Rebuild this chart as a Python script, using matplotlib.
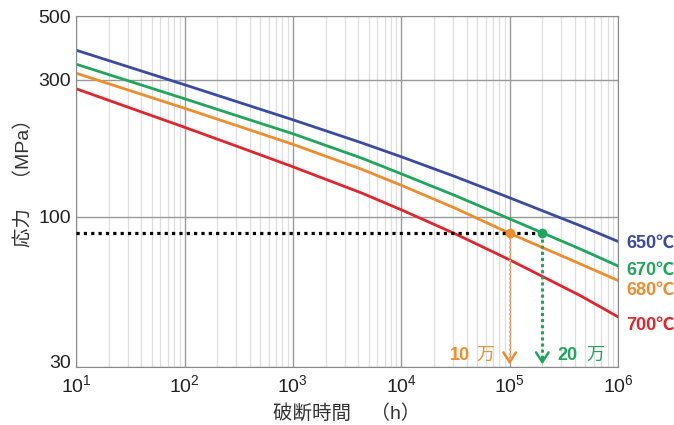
import numpy as np
import matplotlib
matplotlib.use('Agg')
from matplotlib import pyplot as plt
from matplotlib.ticker import FixedLocator, FixedFormatter, LogLocator, NullFormatter, NullLocator
from matplotlib.transforms import ScaledTranslation

plt.rcParams['font.family'] = ['Liberation Sans', 'Noto Sans CJK JP']

# Creep rupture curves: stress (MPa) against rupture time (h)
hours = [10, 100, 316, 1000, 4300, 1e4, 31600, 1e5, 450000, 1e6]
stress_650 = [380.6, 288.6, 250.8, 217.9, 181.2, 162.0, 138.1, 116.6, 93.2, 82.2]
stress_670 = [340.2, 257.9, 224.1, 194.8, 160.3, 141.3, 118.6, 98.5, 77.3, 67.5]
stress_680 = [316.5, 239.0, 206.9, 179.0, 146.6, 128.9, 107.2, 87.7, 68.6, 60.1]
stress_700 = [279.4, 205.2, 175.3, 149.5, 121.2, 105.9, 87.3, 70.9, 53.2, 44.9]

temps = ['650℃', '670℃', '680℃', '700℃']
colors = ['#3b4aa3', '#1ea65a', '#f08c2c', '#e2242c']
label_y = [80.9, 65.2, 55.5, 41.9]

# design stress and the rupture times it gives at 680 and 670 deg C
design_stress = 87.7
t_680 = 1e5
t_670 = 2e5

fig = plt.figure(figsize=(6.74, 4.25), dpi=100)
ax = fig.add_axes([0.113, 0.136, 0.804, 0.826])

for s, c in zip([stress_650, stress_670, stress_680, stress_700], colors):
    ax.plot(hours, s, color=c, lw=2)

ax.set_xscale('log')
ax.set_yscale('log')
ax.set_xlim(10, 1e6)
ax.set_ylim(30, 500)

ax.yaxis.set_major_locator(FixedLocator([30, 100, 300, 500]))
ax.yaxis.set_major_formatter(FixedFormatter(['30', '100', '300', '500']))
ax.yaxis.set_minor_locator(NullLocator())
ax.xaxis.set_major_locator(LogLocator(base=10, numticks=10))
ax.xaxis.set_minor_locator(LogLocator(base=10, subs=np.arange(2, 10), numticks=20))
ax.xaxis.set_minor_formatter(NullFormatter())

ax.grid(True, which='major', color='#9a9a9a', lw=1)
ax.grid(True, which='minor', axis='x', color='#dedede', lw=0.9)
ax.tick_params(which='both', length=0, labelsize=14, colors='#222222')
ax.tick_params(axis='x', pad=5)
for sp in ax.spines.values():
    sp.set_color('#8a8a8a')

# lift the bottom "30" a little so it clears the 10^1 label
lab30 = ax.get_yticklabels()[0]
lab30.set_transform(lab30.get_transform() + ScaledTranslation(0, 4 / 72, fig.dpi_scale_trans))

# design stress line and reading points
ax.plot([10, t_670], [design_stress, design_stress], color='black', ls=(0, (1, 1.3)), lw=2.3, zorder=4)
ax.plot([t_680], [design_stress], 'o', color=colors[2], ms=6, zorder=5)
ax.plot([t_670], [design_stress], 'o', color=colors[1], ms=6, zorder=5)

ax.plot([t_680, t_680], [design_stress, 31.5], color='#f3b46a', ls=(0, (1, 1)), lw=1.6, zorder=4)
ax.plot([t_670, t_670], [design_stress, 31.5], color=colors[1], ls=(0, (1, 1)), lw=2.2, zorder=4)
ax.annotate('', xy=(t_680, 30), xytext=(t_680, 33),
            arrowprops=dict(arrowstyle='->,head_length=0.7,head_width=0.45', color=colors[2], lw=1.8))
ax.annotate('', xy=(t_670, 30), xytext=(t_670, 33),
            arrowprops=dict(arrowstyle='->,head_length=0.7,head_width=0.45', color=colors[1], lw=1.8))

txt = dict(textcoords='offset pixels', fontsize=13, va='center')
ax.annotate('10', xy=(t_680, 33), xytext=(-40, 0), color=colors[2], fontweight='bold', ha='right', **txt)
ax.annotate('万', xy=(t_680, 33), xytext=(-15, 0), color=colors[2], ha='right', **txt)
ax.annotate('20', xy=(t_670, 33), xytext=(15, 0), color=colors[1], fontweight='bold', ha='left', **txt)
ax.annotate('万', xy=(t_670, 33), xytext=(44, 0), color=colors[1], ha='left', **txt)

for t, c, y in zip(temps, colors, label_y):
    ax.text(1.2e6, y, t, color=c, fontsize=13, fontweight='bold', ha='left', va='center', clip_on=False)

ax.set_xlabel('破断時間　（h）', fontsize=14, color='#333333', labelpad=6)
ax.set_ylabel('応力　（MPa）', fontsize=14, color='#333333')
ax.yaxis.set_label_coords(-0.079, 0.54)

fig.savefig('out.png', dpi=100)
